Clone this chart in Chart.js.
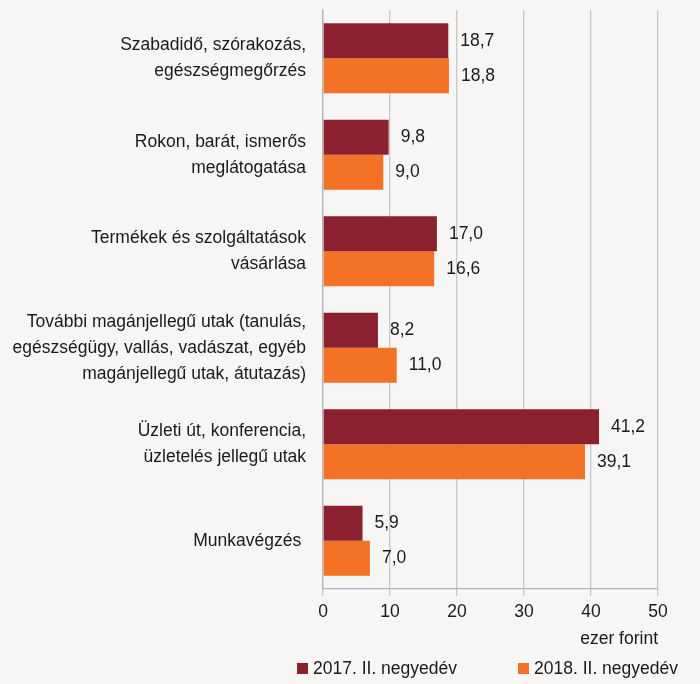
<!DOCTYPE html>
<html>
<head>
<meta charset="utf-8">
<script src="https://cdn.jsdelivr.net/npm/chart.js@4"></script>
<style>
  html, body { margin: 0; padding: 0; background: #f7f6f4; }
  #wrap { position: relative; width: 700px; height: 684px; }
  #legend { position: absolute; left: 0; top: 656px; width: 700px; height: 24px;
    font-family: 'Liberation Sans', Arial, sans-serif;
    font-size: 17.5px; color: #1a1a1a; }
  #legend .item { position: absolute; top: 0; white-space: nowrap; line-height: 24px; }
  #legend .box { display: inline-block; width: 11px; height: 11px; margin-right: 5px; vertical-align: 0px; }
</style>
</head>
<body>
<div id="wrap">
  <canvas id="chart"></canvas>
  <div id="legend"></div>
</div>
<script>
(function(){
  const FONT = "'Liberation Sans', Arial, sans-serif";
  const SIZE = 17.5;

  const categories = [
    ['Szabadidő, szórakozás,', 'egészségmegőrzés'],
    ['Rokon, barát, ismerős', 'meglátogatása'],
    ['Termékek és szolgáltatások', 'vásárlása'],
    ['További magánjellegű utak (tanulás,', 'egészségügy, vallás, vadászat, egyéb', 'magánjellegű utak, átutazás)'],
    ['Üzleti út, konferencia,', 'üzletelés jellegű utak'],
    'Munkavégzés '
  ];
  const series2017 = [18.7, 9.8, 17.0, 8.2, 41.2, 5.9];
  const series2018 = [18.8, 9.0, 16.6, 11.0, 39.1, 7.0];
  const seriesNames = ['2017. II. negyedév', '2018. II. negyedév'];
  const seriesColors = ['#8b212e', '#f37225'];
  const xTicks = [0, 10, 20, 30, 40, 50];
  const xTitle = 'ezer forint';

  const fmt = v => v.toFixed(1).replace('.', ',');

  // value labels to the right of every bar
  const valueLabels = {
    id: 'valueLabels',
    afterDatasetsDraw(chart){
      const c = chart.ctx;
      c.save();
      c.font = SIZE + 'px ' + FONT;
      c.fillStyle = '#1a1a1a';
      c.textBaseline = 'middle';
      c.textAlign = 'left';
      chart.data.datasets.forEach((ds, i) => {
        chart.getDatasetMeta(i).data.forEach((bar, j) => {
          c.fillText(fmt(ds.data[j]), bar.x + 12, bar.y);
        });
      });
      c.restore();
    }
  };

  const chart = new Chart(document.getElementById('chart'), {
    type: 'bar',
    data: {
      labels: categories,
      datasets: [
        { label: seriesNames[0], data: series2017, backgroundColor: seriesColors[0] },
        { label: seriesNames[1], data: series2018, backgroundColor: seriesColors[1] }
      ]
    },
    options: {
      indexAxis: 'y',
      responsive: true,
      maintainAspectRatio: false,
      animation: false,
      categoryPercentage: 0.725,
      barPercentage: 1.0,
      layout: { padding: { top: 10, right: 14, bottom: 34, left: 0 } },
      plugins: { legend: { display: false }, tooltip: { enabled: false } },
      scales: {
        x: {
          min: 0, max: 50,
          afterBuildTicks: s => { s.ticks = xTicks.map(v => ({ value: v })); },
          afterFit: s => { s.paddingRight = 42; },
          grid: { color: '#c8c8c8', lineWidth: 1.3, tickLength: 7, drawTicks: true },
          border: { color: '#b4b4b4', width: 1.3 },
          ticks: { font: { family: FONT, size: SIZE }, color: '#1a1a1a', padding: 6 },
          title: { display: true, text: xTitle, align: 'end', font: { family: FONT, size: SIZE }, color: '#1a1a1a', padding: { top: 0, bottom: 0 } }
        },
        y: {
          afterFit: s => { s.width = 323; s.paddingTop = 0; s.paddingBottom = 0; },
          grid: { display: false, drawTicks: false },
          border: { color: '#b4b4b4', width: 1.3 },
          ticks: { font: { family: FONT, size: SIZE, lineHeight: 26 / SIZE }, color: '#1a1a1a', padding: 17 }
        }
      }
    },
    plugins: [valueLabels]
  });

  // legend below the plot
  const legend = document.getElementById('legend');
  const legendX = [297, 518];
  chart.data.datasets.forEach((ds, i) => {
    const item = document.createElement('span');
    item.className = 'item';
    item.style.left = legendX[i] + 'px';
    item.innerHTML = '<span class="box" style="background:' + ds.backgroundColor + '"></span>' + ds.label;
    legend.appendChild(item);
  });
})();
</script>
</body>
</html>
